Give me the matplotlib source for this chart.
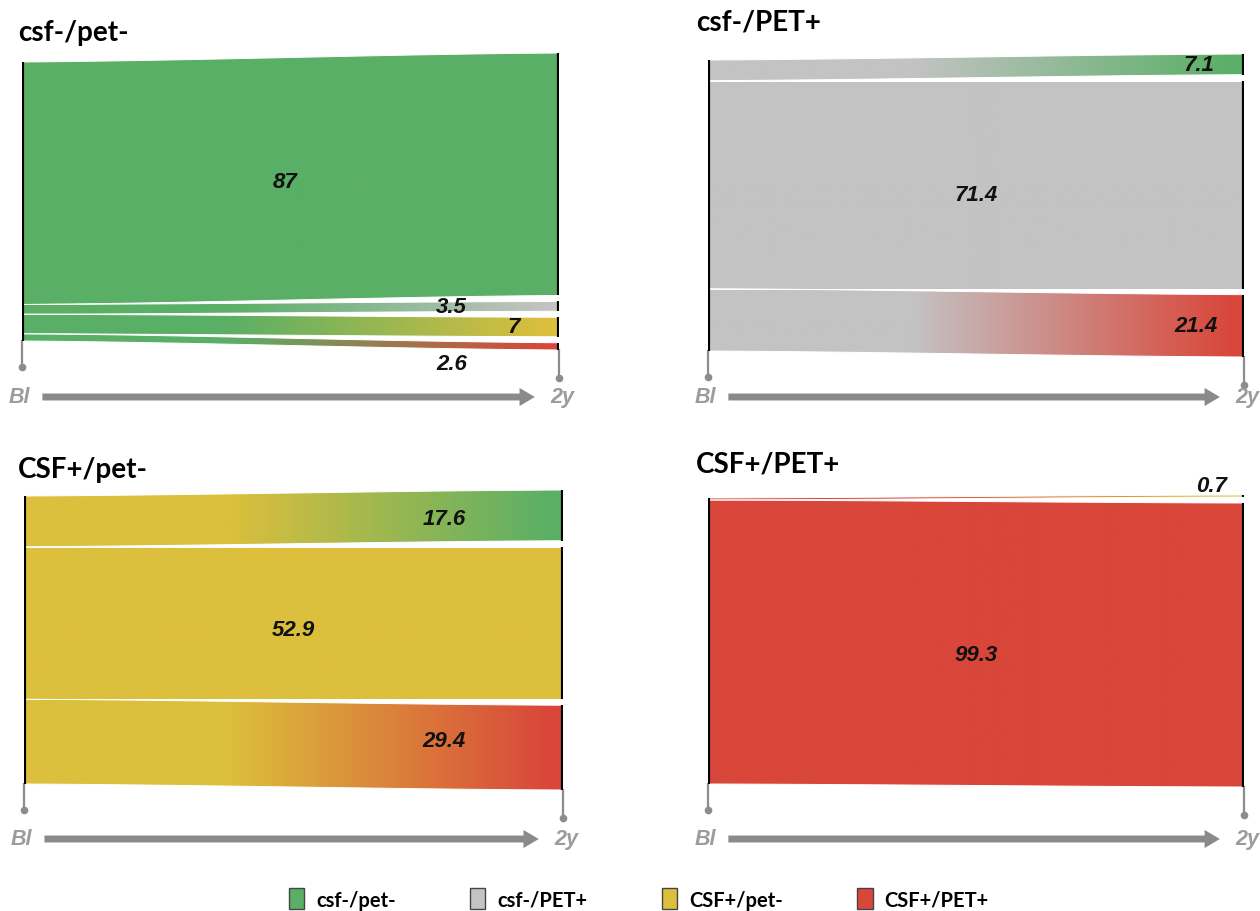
import numpy as np
import matplotlib
matplotlib.use('Agg')
import matplotlib.pyplot as plt
from matplotlib.path import Path
from matplotlib.patches import PathPatch, Patch, FancyArrowPatch
from matplotlib.colors import to_rgb

plt.rcParams['font.family'] = ['Lato', 'DejaVu Sans']
NUM_FONT = ['Liberation Sans', 'DejaVu Sans']

# ---- data ----
states = ['csf-/pet-', 'csf-/PET+', 'CSF+/pet-', 'CSF+/PET+']
state_colors = ['#5aaf66', '#c3c3c3', '#dcbf3c', '#d9463a']

# baseline group of each panel, transitions to 2y groups (in %)
panel_source = [0, 1, 2, 3]
panel_targets = [[0, 1, 2, 3], [0, 1, 3], [0, 2, 3], [2, 3]]
panel_values = [[87, 3.5, 7, 2.6], [7.1, 71.4, 21.4], [17.6, 52.9, 29.4], [0.7, 99.3]]
panel_labels = [['87', '3.5', '7', '2.6'], ['7.1', '71.4', '21.4'],
                ['17.6', '52.9', '29.4'], ['0.7', '99.3']]

# ---- layout (pixels) ----
W, H = 1260, 912
# x of left bar, x of right bar, top / bottom of baseline bar
boxes = [(22, 559, 63, 342), (708, 1244, 61, 352),
         (24, 563, 497, 785), (708, 1244, 499, 785)]
title_pos = [(18, 33), (696, 22), (18, 470), (696, 465)]
arrow_y = [398, 398, 840, 840]
# label x (fraction) and vertical offset in px (+ = down)
lab_x = [[0.49, 0.80, 0.915, 0.80], [0.915, 0.50, 0.91], [0.78, 0.50, 0.78], [0.94, 0.50]]
lab_dy = [[3, 0, 0, 18], [0, 10, 0], [2, 7, -6], [-11, 11]]
gap_px = 6
PAD = 8

fig = plt.figure(figsize=(W / 100, H / 100), dpi=100)


def smooth(t):
    return 0.45 * t + 0.55 * (3 * t ** 2 - 2 * t ** 3)


for p in range(4):
    x0, x1, yt, yb = boxes[p]
    k = (yb - yt) / 100.0
    ax = fig.add_axes([x0 / W, 1 - (yb + PAD * k + 3 * gap_px) / H,
                       (x1 - x0) / W, (100 * k + 2 * PAD * k + 6 * gap_px) / H])
    ylo = -(PAD * k + 3 * gap_px) / k
    ax.set_xlim(0, 1)
    ax.set_ylim(ylo, 100 - ylo)
    ax.axis('off')

    vals = np.array(panel_values[p], dtype=float)
    vals = vals / vals.sum() * 100
    n = len(vals)
    gap = gap_px / k
    lefts = 100 - np.concatenate([[0], np.cumsum(vals)])
    rtop = 100 + gap * (n - 1) / 2
    rights = []
    for v in vals:
        rights.append((rtop, rtop - v))
        rtop = rtop - v - gap

    t = np.linspace(0, 1, 80)
    src = np.array(to_rgb(state_colors[panel_source[p]]))
    for i in range(n):
        lt, lb = lefts[i], lefts[i + 1]
        rt, rb = rights[i]
        top = lt + (rt - lt) * smooth(t)
        bot = lb + (rb - lb) * smooth(t)
        verts = np.vstack([np.column_stack([t, top]), np.column_stack([t[::-1], bot[::-1]])])
        path = Path(np.vstack([verts, verts[:1]]), closed=True)
        tgt = np.array(to_rgb(state_colors[panel_targets[p][i]]))
        xs = np.linspace(0, 1, 300)
        w = np.clip((xs - 0.38) / 0.6, 0, 1)
        grad = src[None, :] * (1 - w[:, None]) + tgt[None, :] * w[:, None]
        patch = PathPatch(path, facecolor='none', edgecolor='white', lw=0.7, zorder=3)
        ax.add_patch(patch)
        im = ax.imshow(grad[None, :, :], extent=[0, 1, min(bot.min(), top.min()), max(top.max(), bot.max())],
                       aspect='auto', interpolation='bilinear', zorder=2)
        im.set_clip_path(patch)
        # right bar edge
        ax.plot([1, 1], [rt, rb], color='black', lw=3, solid_capstyle='butt', zorder=5)
        # value label
        lx = lab_x[p][i]
        ly = (lt + (rt - lt) * smooth(lx) + lb + (rb - lb) * smooth(lx)) / 2 - lab_dy[p][i] / k
        ax.text(lx, ly, panel_labels[p][i], ha='center', va='center', fontsize=16,
                fontweight='bold', style='italic', color='#111111', zorder=6, family=NUM_FONT)

    ax.plot([0, 0], [0, 100], color='black', lw=3, solid_capstyle='butt', zorder=5)
    # stems
    ax.plot([0, 0], [0, -26 / k], color='#8c8c8c', lw=1.6, zorder=4, clip_on=False)
    ax.plot([0], [-26 / k], 'o', color='#8c8c8c', ms=4.5, clip_on=False)
    rb_last = rights[-1][1]
    ax.plot([1, 1], [rb_last, rb_last - 28 / k], color='#8c8c8c', lw=1.6, zorder=4, clip_on=False)
    ax.plot([1], [rb_last - 28 / k], 'o', color='#8c8c8c', ms=4.5, clip_on=False)

    # arrow Bl -> 2y
    ay = 1 - arrow_y[p] / H
    fx0, fx1 = x0 / W, x1 / W
    fw = fx1 - fx0
    arr = FancyArrowPatch((fx0 + 0.038 * fw, ay), (fx0 + 0.955 * fw, ay), transform=fig.transFigure,
                          arrowstyle='simple,head_length=1.1,head_width=1.3,tail_width=0.5',
                          mutation_scale=10, color='#8a8a8a', lw=0, shrinkA=0, shrinkB=0)
    fig.add_artist(arr)
    fig.text(fx0 - 0.004 * fw, ay, 'Bl', ha='center', va='center', fontsize=15.5,
             fontweight='bold', style='italic', color='#9c9c9c', family=NUM_FONT)
    fig.text(fx0 + 1.006 * fw, ay, '2y', ha='center', va='center', fontsize=15.5,
             fontweight='bold', style='italic', color='#9c9c9c', family=NUM_FONT)

    tx, ty = title_pos[p]
    fig.text(tx / W, 1 - ty / H, states[panel_source[p]], ha='left', va='center',
             fontsize=20, fontweight='bold', color='black')

handles = [Patch(facecolor=c, edgecolor='#444444', lw=1) for c in state_colors]
fig.legend(handles, states, loc='center', bbox_to_anchor=(0.507, 1 - 900 / H), ncol=4,
           frameon=False, prop={'weight': 'bold', 'size': 14.5}, handlelength=0.75,
           handleheight=1.2, handletextpad=0.6, columnspacing=3.7)

fig.savefig('out.png', dpi=100, facecolor='white')
